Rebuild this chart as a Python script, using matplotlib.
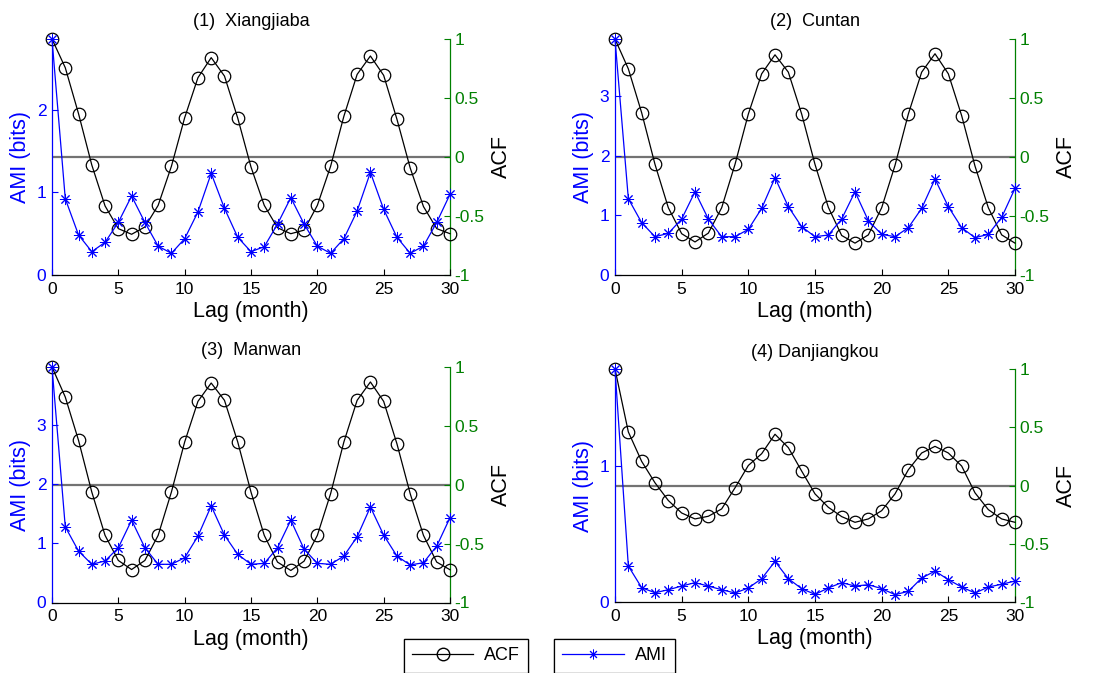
import matplotlib
matplotlib.use("Agg")
import matplotlib.pyplot as plt
from matplotlib.lines import Line2D

plt.rcParams['font.family'] = ['Liberation Sans', 'DejaVu Sans']

lags = list(range(31))

titles = ["(1)  Xiangjiaba", "(2)  Cuntan", "(3)  Manwan", "(4) Danjiangkou"]

acf_xiangjiaba = [1.0, 0.757, 0.367, -0.068, -0.415, -0.607, -0.655, -0.593, -0.41, -0.079,
                  0.333, 0.672, 0.842, 0.686, 0.33, -0.085, -0.41, -0.60, -0.65, -0.62,
                  -0.41, -0.079, 0.345, 0.70, 0.856, 0.692, 0.32, -0.093, -0.42, -0.607, -0.65]
ami_xiangjiaba = [2.86, 0.925, 0.485, 0.283, 0.396, 0.638, 0.957, 0.638, 0.35, 0.263,
                  0.44, 0.764, 1.232, 0.808, 0.457, 0.283, 0.343, 0.618, 0.937, 0.618,
                  0.35, 0.263, 0.44, 0.776, 1.244, 0.796, 0.457, 0.263, 0.35, 0.638, 0.978]

acf_cuntan = [1.0, 0.747, 0.375, -0.0625, -0.43, -0.65, -0.72, -0.645, -0.43, -0.0625,
              0.364, 0.705, 0.866, 0.719, 0.364, -0.0625, -0.426, -0.665, -0.73, -0.66,
              -0.43, -0.071, 0.364, 0.719, 0.875, 0.705, 0.35, -0.077, -0.43, -0.66, -0.73]
ami_cuntan = [3.95, 1.277, 0.876, 0.641, 0.697, 0.937, 1.394, 0.937, 0.641, 0.641,
              0.764, 1.115, 1.628, 1.143, 0.809, 0.641, 0.669, 0.937, 1.394, 0.909,
              0.68, 0.641, 0.792, 1.115, 1.606, 1.143, 0.792, 0.625, 0.68, 0.965, 1.45]

acf_manwan = [1.0, 0.745, 0.377, -0.062, -0.43, -0.643, -0.72, -0.643, -0.43, -0.062,
              0.363, 0.708, 0.864, 0.717, 0.363, -0.062, -0.43, -0.657, -0.728, -0.649,
              -0.43, -0.076, 0.363, 0.717, 0.873, 0.708, 0.348, -0.076, -0.43, -0.657, -0.722]
ami_manwan = [3.97, 1.276, 0.867, 0.644, 0.70, 0.923, 1.388, 0.923, 0.644, 0.644,
              0.755, 1.119, 1.628, 1.136, 0.811, 0.644, 0.66, 0.923, 1.388, 0.90,
              0.66, 0.644, 0.783, 1.108, 1.61, 1.136, 0.783, 0.632, 0.671, 0.951, 1.43]

acf_danjiangkou = [1.0, 0.46, 0.207, 0.023, -0.129, -0.236, -0.287, -0.264, -0.201, -0.02,
                   0.172, 0.273, 0.44, 0.325, 0.124, -0.072, -0.187, -0.267, -0.316, -0.287,
                   -0.216, -0.072, 0.135, 0.279, 0.336, 0.279, 0.167, -0.063, -0.207, -0.287, -0.316]
ami_danjiangkou = [1.71, 0.264, 0.105, 0.068, 0.09, 0.117, 0.142, 0.117, 0.09, 0.066,
                   0.103, 0.171, 0.298, 0.171, 0.098, 0.056, 0.103, 0.142, 0.117, 0.127,
                   0.098, 0.054, 0.078, 0.176, 0.227, 0.164, 0.11, 0.066, 0.11, 0.13, 0.154]

acf_all = [acf_xiangjiaba, acf_cuntan, acf_manwan, acf_danjiangkou]
ami_all = [ami_xiangjiaba, ami_cuntan, ami_manwan, ami_danjiangkou]
ami_ylims = [2.86, 3.95, 3.97, 1.71]
ami_ticks = [[0, 1, 2], [0, 1, 2, 3], [0, 1, 2, 3], [0, 1]]
acf_ticks = [-1, -0.5, 0, 0.5, 1]
acf_ticklabels = ["-1", "-0.5", "0", "0.5", "1"]
x_ticks = [0, 5, 10, 15, 20, 25, 30]

BLUE = (0, 0, 1)
GREEN = (0, 0.5, 0)

W, H = 1116, 673
fig = plt.figure(figsize=(W / 100, H / 100), dpi=100)

# axes boxes in pixels: left, right, top, bottom
boxes = [(52, 450, 39, 275), (615, 1015, 39, 275),
         (52, 450, 367, 602.5), (615, 1015, 369, 602)]

for i in range(4):
    l, r, t, b = boxes[i]
    ax = fig.add_axes([l / W, 1 - b / H, (r - l) / W, (b - t) / H])
    ax2 = ax.twinx()
    ax.set_zorder(2)
    ax.patch.set_visible(False)
    ax2.set_zorder(1)

    ax2.axhline(0, color='0.45', lw=1.6, zorder=1)
    ax2.plot(lags, acf_all[i], color='black', lw=0.9, marker='o', ms=9,
             mfc='none', mec='black', mew=0.9, clip_on=False, zorder=3)
    ax.plot(lags, ami_all[i], color=BLUE, lw=0.9, marker=(8, 2, 0), ms=8,
            mec=BLUE, mew=0.7, clip_on=False, zorder=4)

    ax.set_xlim(0, 30)
    ax.set_ylim(0, ami_ylims[i])
    ax2.set_ylim(-1, 1)
    ax.set_xticks(x_ticks)
    ax.set_yticks(ami_ticks[i])
    ax2.set_yticks(acf_ticks)
    ax2.set_yticklabels(acf_ticklabels)

    for a in (ax, ax2):
        a.spines['top'].set_visible(False)
    ax.spines['right'].set_visible(False)
    ax2.spines['left'].set_visible(False)
    ax2.spines['bottom'].set_visible(False)
    ax.spines['left'].set_color(BLUE)
    ax2.spines['right'].set_color(GREEN)
    ax.spines['bottom'].set_color('black')
    for s in ('left', 'bottom'):
        ax.spines[s].set_linewidth(0.9)
    ax2.spines['right'].set_linewidth(0.9)

    ax.tick_params(axis='x', direction='in', length=4, width=0.8, colors='black',
                   labelsize=12.5, pad=5)
    ax.tick_params(axis='y', direction='in', length=4, width=0.8, colors=BLUE,
                   labelsize=12.5, pad=4)
    ax2.tick_params(axis='y', direction='in', length=4, width=0.8, colors=GREEN,
                    labelsize=12.5, pad=3)

    ax.set_xlabel("Lag (month)", fontsize=15.5, labelpad=3)
    ax.set_ylabel("AMI (bits)", fontsize=15.5, color=BLUE, labelpad=4)
    ax2.set_ylabel("ACF", fontsize=15.5, color='black', labelpad=5)
    ax.set_title(titles[i], fontsize=13, pad=9)

h_acf = Line2D([], [], color='black', lw=0.9, marker='o', ms=9, mfc='none', mec='black')
h_ami = Line2D([], [], color=BLUE, lw=0.9, marker=(8, 2, 0), ms=7, mec=BLUE, mew=0.7)
for h, lab, cx in [(h_acf, "ACF", 466), (h_ami, "AMI", 614.5)]:
    leg = fig.legend([h], [lab], loc='center', bbox_to_anchor=(cx / W, 1 - 656 / H),
                     fontsize=13, frameon=True, fancybox=False, framealpha=1,
                     edgecolor='black', handlelength=3.4, borderpad=0.45,
                     handletextpad=0.6, borderaxespad=0)
    leg.get_frame().set_linewidth(0.9)
    fig.add_artist(leg)

fig.savefig("out.png", dpi=100)
